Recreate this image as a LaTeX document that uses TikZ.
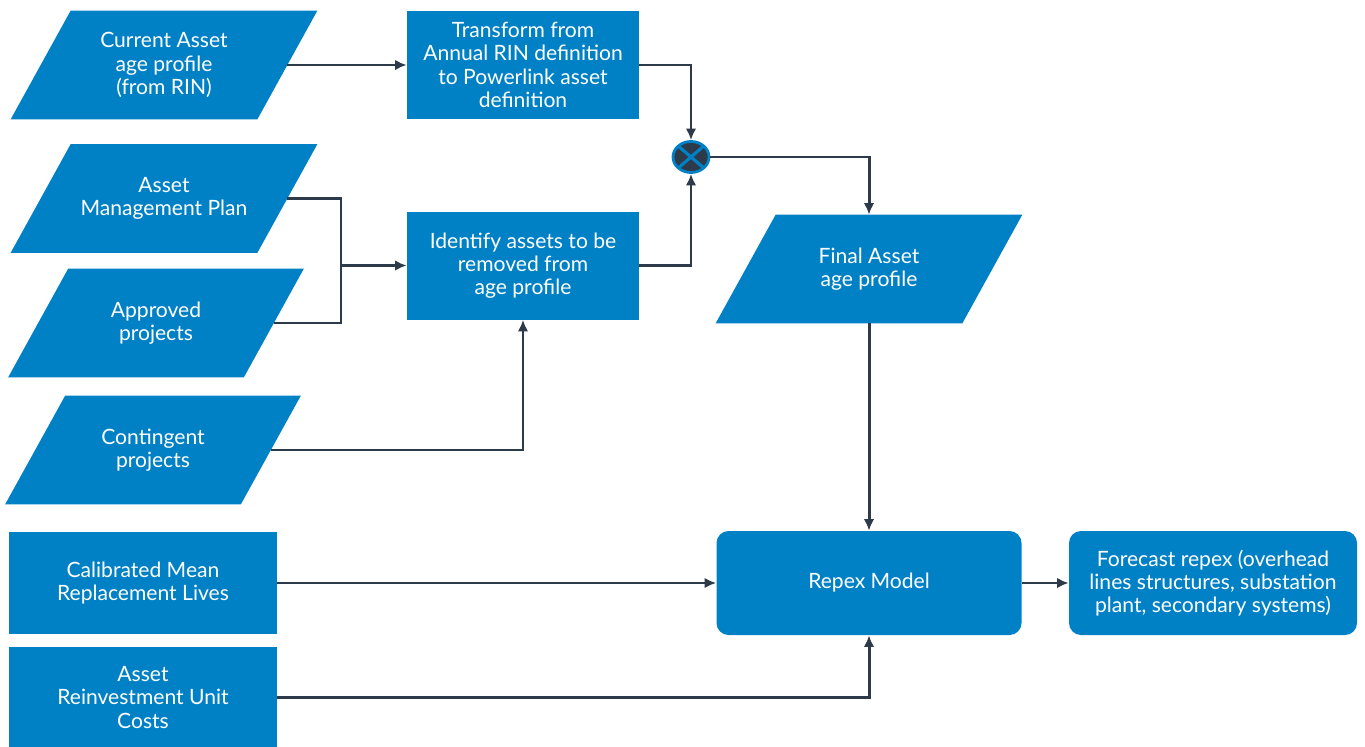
\documentclass[tikz,border=0pt]{standalone}
\usepackage{fontspec}
\setmainfont{Lato}
\usetikzlibrary{arrows.meta,shapes.geometric,backgrounds}
\definecolor{boxblue}{RGB}{0,129,198}
\definecolor{linkdark}{RGB}{44,58,74}
\tikzset{
  >={Latex[length=2.3mm,width=2.1mm]},
  box/.style = {fill=boxblue, text=white, align=center, inner sep=0,
                font=\fontsize{12}{13.2}\selectfont},
  datain/.style = {box, fill=none, rectangle, minimum width=#1, minimum height=2.16cm},
  datain/.default = 4.92cm,
  process/.style = {box, rectangle, minimum width=4.64cm, minimum height=2.16cm},
  source/.style = {box, rectangle, minimum width=5.36cm, minimum height=2.04cm},
  model/.style = {box, rectangle, rounded corners=2.4mm,
                minimum width=#1, minimum height=2.08cm},
  junction/.style = {ellipse, fill=linkdark, draw=boxblue, line width=1.6pt,
                minimum width=0.72cm, minimum height=0.62cm, inner sep=0,
                path picture={\draw[boxblue, line width=1.8pt]
                  (path picture bounding box.north west) -- (path picture bounding box.south east)
                  (path picture bounding box.south west) -- (path picture bounding box.north east);}},
  wire/.style = {draw=linkdark, line width=1.7pt},
  link/.style = {wire, ->},
}

\begin{document}
\begin{tikzpicture}[x=0.2mm, y=-0.2mm]
\useasboundingbox (0,0) rectangle (1365,747);
% inputs
\node[datain] (cur) at (164,65) {Current Asset\\age profile\\(from RIN)};
\node[datain] (amp) at (164,198.5) {Asset\\Management Plan};
\node[datain=4.7cm] (appr) at (156,323) {Approved\\projects};
\node[datain=4.7cm] (cont) at (153,450) {Contingent\\projects};
\node[source] (calib) at (143,583) {Calibrated Mean\\Replacement Lives};
\node[source] (reinv) at (143,697.5) {Asset\\Reinvestment Unit\\Costs};
% processing
\node[process] (transform) at (523,65) {Transform from\\Annual RIN definition\\to Powerlink asset\\definition};
\node[process] (identify) at (523,265.5) {Identify assets to be\\removed from\\age profile};
\node[junction] (junc) at (691,157) {};
\node[datain] (final) at (869,269) {Final Asset\\age profile};
\node[model=6.1cm] (repex) at (869,583) {Repex Model};
\node[model=5.76cm] (forecast) at (1213,583) {Forecast repex (overhead\\lines structures, substation\\plant, secondary systems)};
\coordinate (merge) at (341,265.5);
% parallelograms behind the data nodes
\begin{scope}[on background layer]
\foreach \n in {cur,amp,appr,cont,final}
  \fill[boxblue] ([xshift=6mm]\n.north west) -- ([xshift=6mm]\n.north east)
    -- ([xshift=-6mm]\n.south east) -- ([xshift=-6mm]\n.south west) -- cycle;
\end{scope}
% connectors
\draw[link] (cur.east) -- (transform.west);
\draw[link] (transform.east) -| (junc.north);
\draw[link] (identify.east) -| (junc.south);
\draw[link] (junc.east) -| (final.north);
\draw[wire] (amp.east) -| (merge);
\draw[wire] (appr.east) -| (merge);
\draw[link] (merge) -- (identify.west);
\draw[link] (cont.east) -| (identify.south);
\draw[link] (final.south) -- (repex.north);
\draw[link] (calib.east) -- (repex.west);
\draw[link] (reinv.east) -| (repex.south);
\draw[link] (repex.east) -- (forecast.west);
\end{tikzpicture}
\end{document}
